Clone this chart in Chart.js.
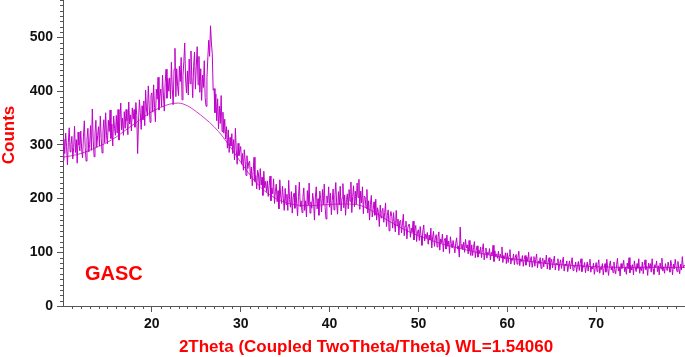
<!DOCTYPE html>
<html>
<head>
<meta charset="utf-8">
<script src="https://cdn.jsdelivr.net/npm/chart.js@4/dist/chart.umd.min.js"></script>
<style>
  body { margin: 0; background: #fff; }
  #wrap { width: 685px; height: 357px; }
</style>
</head>
<body>
<div id="wrap"><canvas id="xrd" width="685" height="357"></canvas></div>
<script>
// 2θ の開始値と刻み (度)
const twoThetaStart = 10;
const twoThetaStep = 0.1;

// 測定カウント (10.0° 〜 80.0°, 0.1° 刻み, 図から読み取り)
const counts = [
  271, 311, 284, 322, 297, 263, 305, 332, 287, 301,
  316, 274, 295, 335, 286, 310, 266, 324, 300, 289,
  326, 291, 276, 315, 345, 295, 270, 311, 331, 287,
  301, 336, 290, 367, 309, 278, 322, 346, 296, 318,
  334, 298, 354, 312, 285, 326, 347, 304, 360, 317,
  302, 346, 325, 365, 312, 339, 298, 354, 331, 318,
  355, 322, 366, 309, 342, 378, 328, 350, 318, 362,
  331, 366, 345, 319, 380, 339, 356, 326, 369, 348,
  366, 333, 379, 355, 284, 344, 384, 360, 329, 373,
  347, 382, 336, 402, 365, 354, 410, 373, 342, 392,
  397, 361, 412, 370, 343, 404, 385, 426, 365, 391,
  404, 371, 430, 393, 363, 416, 441, 387, 424, 400,
  425, 386, 454, 404, 375, 441, 480, 390, 442, 409,
  392, 447, 418, 463, 384, 429, 455, 490, 421, 397,
  438, 393, 460, 414, 475, 427, 388, 446, 473, 404,
  447, 483, 412, 465, 398, 442, 383, 430, 407, 457,
  388, 372, 425, 462, 495, 465, 522, 490, 470, 402,
  405, 360, 395, 345, 386, 330, 372, 340, 392, 325,
  361, 322, 348, 311, 334, 294, 328, 286, 314, 298,
  321, 284, 310, 272, 331, 292, 264, 303, 280, 289,
  297, 264, 284, 253, 291, 270, 243, 280, 256, 267,
  270, 237, 259, 224, 250, 277, 232, 243, 218, 253,
  246, 216, 256, 225, 240, 206, 251, 220, 232, 213,
  233, 204, 225, 242, 196, 220, 209, 237, 191, 213,
  227, 194, 215, 181, 235, 205, 191, 223, 200, 178,
  219, 189, 208, 178, 234, 198, 184, 213, 173, 203,
  210, 182, 225, 190, 168, 204, 231, 185, 196, 174,
  202, 220, 178, 196, 166, 215, 188, 229, 173, 194,
  182, 210, 195, 160, 203, 222, 181, 200, 169, 214,
  200, 175, 217, 188, 227, 183, 162, 205, 192, 222,
  184, 210, 170, 197, 218, 179, 205, 230, 190, 171,
  213, 188, 223, 177, 201, 228, 183, 207, 169, 198,
  209, 181, 217, 195, 231, 174, 204, 224, 185, 214,
  189, 229, 202, 236, 180, 214, 192, 222, 172, 205,
  203, 182, 217, 173, 196, 160, 189, 206, 166, 179,
  194, 169, 199, 160, 183, 174, 148, 188, 164, 177,
  182, 156, 174, 192, 148, 169, 179, 140, 165, 176,
  167, 145, 174, 154, 138, 178, 150, 162, 132, 158,
  160, 136, 153, 171, 131, 149, 158, 125, 145, 152,
  152, 128, 145, 137, 158, 123, 142, 150, 120, 139,
  142, 122, 148, 130, 113, 140, 151, 121, 134, 127,
  137, 115, 132, 123, 145, 108, 129, 139, 111, 126,
  133, 110, 128, 138, 104, 125, 118, 134, 101, 122,
  126, 106, 132, 111, 121, 98, 129, 116, 108, 122,
  122, 99, 117, 127, 106, 112, 91, 147, 108, 115,
  105, 119, 100, 124, 108, 114, 97, 122, 103, 94,
  114, 94, 109, 120, 90, 103, 112, 91, 104, 98,
  110, 90, 105, 116, 86, 99, 108, 89, 100, 96,
  107, 86, 100, 94, 113, 83, 103, 92, 97, 89,
  102, 84, 97, 90, 110, 81, 94, 88, 99, 79,
  99, 81, 94, 105, 78, 89, 85, 97, 77, 91,
  96, 78, 91, 102, 75, 88, 83, 94, 74, 87,
  94, 76, 91, 83, 100, 73, 86, 92, 72, 84,
  92, 74, 87, 97, 71, 84, 79, 90, 70, 83,
  89, 73, 85, 79, 95, 69, 82, 90, 68, 81,
  87, 71, 83, 93, 67, 80, 77, 88, 66, 79,
  86, 70, 81, 91, 65, 78, 75, 84, 64, 76,
  84, 69, 80, 90, 66, 75, 72, 82, 63, 74,
  83, 66, 79, 88, 64, 75, 72, 81, 62, 73,
  82, 65, 78, 87, 63, 73, 69, 80, 59, 72,
  81, 64, 77, 86, 61, 72, 68, 79, 58, 71,
  79, 63, 87, 70, 57, 76, 84, 67, 74, 62,
  82, 68, 60, 77, 89, 65, 73, 56, 79, 70,
  74, 85, 64, 72, 59, 80, 69, 90, 62, 76,
  67, 77, 58, 84, 72, 64, 79, 70, 88, 61,
  73, 66, 82, 60, 75, 86, 68, 74, 57, 80,
  70, 79, 63, 88, 69, 59, 77, 72, 84, 64,
  75, 58, 80, 69, 89, 65, 73, 61, 79, 70,
  66, 82, 72, 63, 85, 75, 58, 78, 69, 87,
  73, 64, 83, 70, 60, 78, 67, 92, 71, 76,
  74
];

// バックグラウンド曲線 (1° 刻み)
const bgTheta = [
  10, 11, 12, 13, 14, 15, 16, 17, 18, 19, 20, 21, 22, 23, 24, 25, 26, 27, 28, 29,
  30, 31, 32, 33, 34, 35, 36, 37, 38, 39, 40, 41, 42, 43, 44, 45, 46, 47, 48, 49,
  50, 51, 52, 53, 54, 55, 56, 57, 58, 59, 60, 61, 62, 63, 64, 65, 66, 67, 68, 69,
  70, 71, 72, 73, 74, 75, 76, 77, 78, 79, 80
];
const bgCounts = [
  277, 280, 284, 290, 297, 305, 315, 327, 339, 351, 362, 370, 376, 378, 373, 362, 349, 334, 315, 292,
  268, 245, 225, 210, 200, 193, 189, 187, 187, 188, 189, 190, 190, 189, 184, 175, 165, 155, 146, 138,
  131, 125, 119, 114, 110, 106, 102, 98, 95, 92, 89, 87, 84, 82, 80, 78, 77, 76, 75, 74,
  73, 73, 72, 72, 72, 72, 72, 72, 72, 72, 72
];

// 目盛りラベル
const xTickLabels = [20, 30, 40, 50, 60, 70];
const yTickLabels = [0, 100, 200, 300, 400, 500];

const mainPoints = counts.map((c, i) => ({ x: twoThetaStart + i * twoThetaStep, y: c }));
const bgPoints = bgTheta.map((t, i) => ({ x: t, y: bgCounts[i] }));

const axisColor = "#555";
const red = "#ff0000";

// 補助目盛りと軸タイトル
const decorPlugin = {
  id: "decor",
  afterDraw(chart) {
    const { ctx, scales: { x, y }, chartArea } = chart;
    ctx.save();
    ctx.strokeStyle = axisColor;
    ctx.lineWidth = 1;
    ctx.beginPath();
    for (let v = 11; v < 80; v++) {
      if (v % 10 === 0) continue;
      const px = Math.round(x.getPixelForValue(v)) + 0.5;
      ctx.moveTo(px, chartArea.bottom);
      ctx.lineTo(px, chartArea.bottom + 3);
    }
    for (let v = 10; v <= 570; v += 10) {
      if (v % 100 === 0) continue;
      const py = Math.round(y.getPixelForValue(v)) + 0.5;
      ctx.moveTo(chartArea.left - 3, py);
      ctx.lineTo(chartArea.left, py);
    }
    ctx.stroke();

    ctx.fillStyle = red;
    ctx.font = "bold 17px 'Liberation Sans', Arial, sans-serif";
    ctx.textAlign = "center";
    ctx.textBaseline = "middle";
    ctx.fillText("2Theta (Coupled TwoTheta/Theta) WL=1.54060", 366, 347);

    ctx.save();
    ctx.translate(9, 135);
    ctx.rotate(-Math.PI / 2);
    ctx.fillText("Counts", 0, 0);
    ctx.restore();

    ctx.font = "bold 20px 'Liberation Sans', Arial, sans-serif";
    ctx.textAlign = "left";
    ctx.textBaseline = "alphabetic";
    ctx.fillText("GASC", 85, 280);
    ctx.restore();
  },
};

const ctx = document.getElementById("xrd").getContext("2d");
new Chart(ctx, {
  type: "line",
  data: {
    datasets: [
      {
        label: "background",
        data: bgPoints,
        borderColor: "rgb(205, 60, 205)",
        borderWidth: 1,
        pointRadius: 0,
        cubicInterpolationMode: "monotone",
        order: 2,
      },
      {
        label: "GASC",
        data: mainPoints,
        borderColor: "rgb(190, 0, 200)",
        borderWidth: 1,
        pointRadius: 0,
        tension: 0,
        order: 1,
      },
    ],
  },
  options: {
    responsive: false,
    animation: false,
    layout: { padding: 0 },
    plugins: { legend: { display: false }, tooltip: { enabled: false } },
    scales: {
      x: {
        type: "linear",
        min: 10,
        max: 80,
        afterBuildTicks: (scale) => {
          scale.ticks = xTickLabels.map((v) => ({ value: v }));
        },
        afterFit: (scale) => {
          scale.height = 51;
          scale.paddingLeft = 0;
          scale.paddingRight = 0;
        },
        grid: { drawOnChartArea: false, tickLength: 6, tickColor: axisColor },
        border: { color: axisColor, width: 1 },
        ticks: {
          color: "#111",
          padding: 4,
          maxRotation: 0,
          font: { family: "'Liberation Sans', Arial, sans-serif", size: 14, weight: "bold" },
        },
      },
      y: {
        min: 0,
        max: 570,
        afterBuildTicks: (scale) => {
          scale.ticks = yTickLabels.map((v) => ({ value: v }));
        },
        afterFit: (scale) => {
          scale.width = 63;
          scale.paddingTop = 0;
          scale.paddingBottom = 0;
        },
        grid: { drawOnChartArea: false, tickLength: 6, tickColor: axisColor },
        border: { color: axisColor, width: 1 },
        ticks: {
          color: "#111",
          padding: 4,
          font: { family: "'Liberation Sans', Arial, sans-serif", size: 14, weight: "bold" },
        },
      },
    },
  },
  plugins: [decorPlugin],
});
</script>
</body>
</html>
